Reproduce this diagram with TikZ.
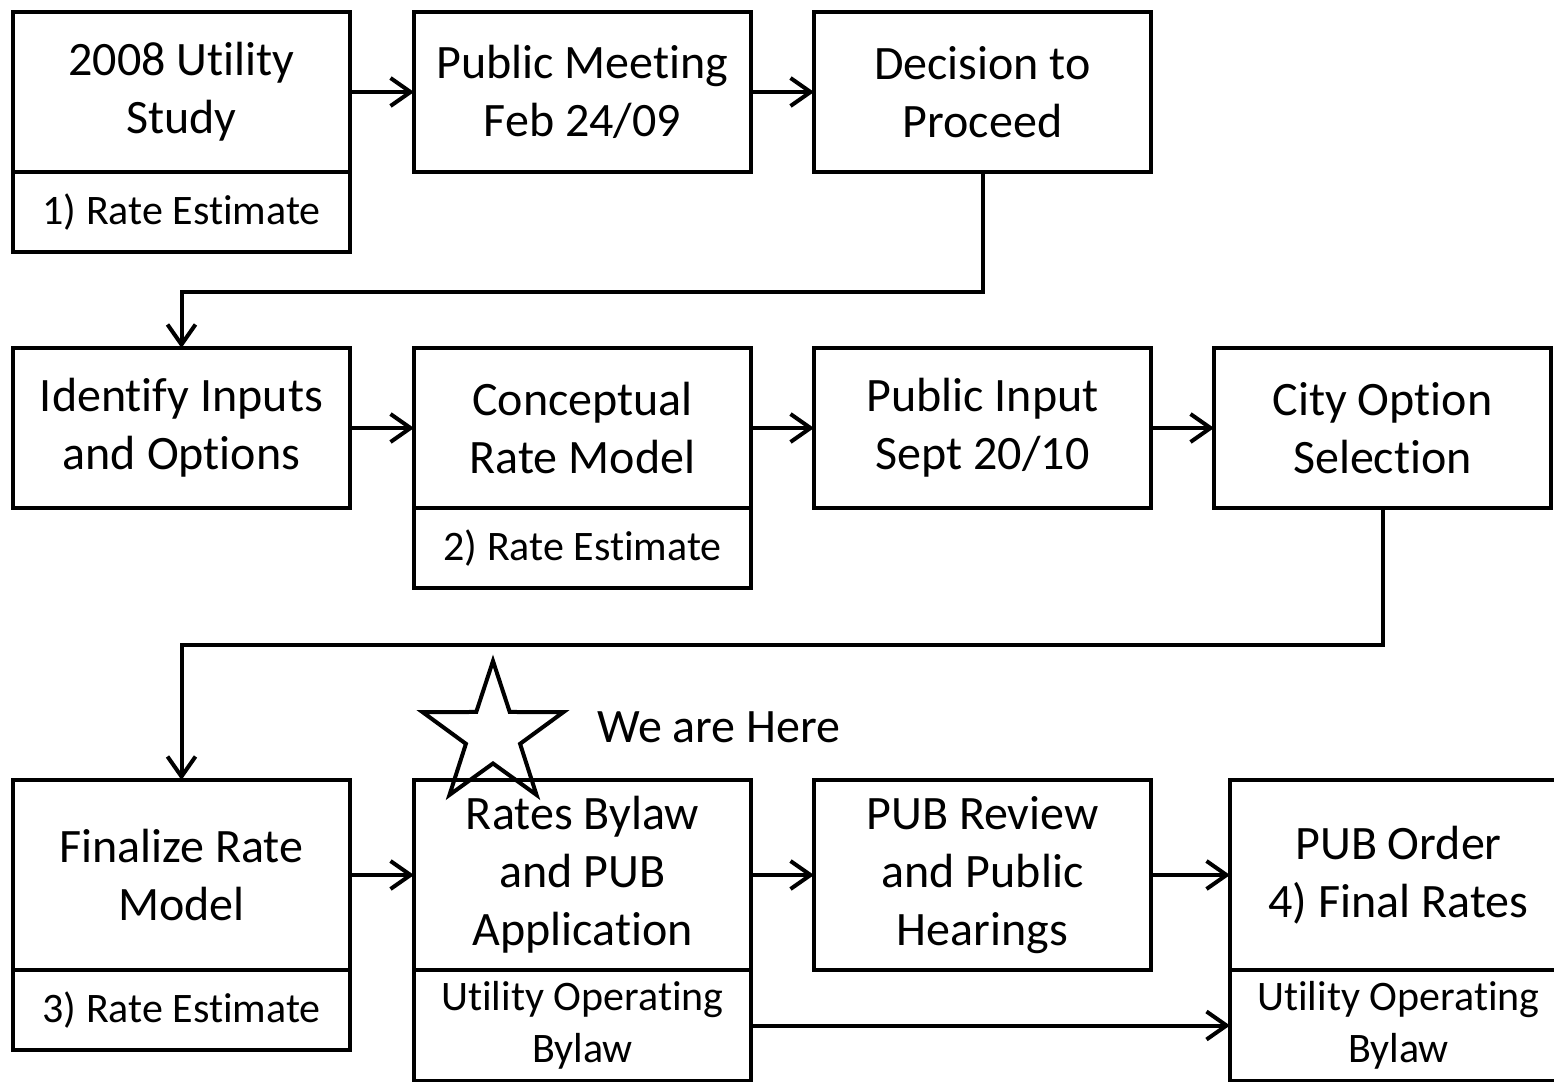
\documentclass[tikz,border=0pt]{standalone}
\usepackage{fontspec}
\setmainfont{Carlito}[Ligatures=NoCommon]
\usetikzlibrary{arrows.meta, shapes.geometric}

\tikzset{
  box/.style={draw, line width=2pt, minimum width=168.5pt, minimum height=80pt,
    inner sep=0pt, outer sep=0pt, align=center, font=\fontsize{24}{29}\selectfont},
  tallbox/.style={box, minimum height=95pt},
  subbox/.style={box, minimum height=40pt, font=\fontsize{21}{26}\selectfont},
  tallsub/.style={subbox, minimum height=55.5pt},
  flow/.style={line width=2pt, -{Straight Barb[length=10pt, width=14pt, line width=2pt]}}
}

\begin{document}
\begin{tikzpicture}[x=0.5pt, y=-0.5pt]
  \useasboundingbox (0,0) rectangle (1554,1082);
  \clip (0,0) rectangle (1554,1082);

  % first row
  \node[box, anchor=north west] (study) at (13,12) {2008 Utility\\Study};
  \node[subbox, anchor=north] (est1) at (study.south) {1) Rate Estimate};
  \node[box, anchor=north west] (meeting) at (414,12) {Public Meeting\\Feb 24/09};
  \node[box, anchor=north west] (decide) at (814,12) {Decision to\\Proceed};

  % second row
  \node[box, anchor=north west] (inputs) at (13,348) {Identify Inputs\\and Options};
  \node[box, anchor=north west] (concept) at (414,348) {Conceptual\\Rate Model};
  \node[subbox, anchor=north] (est2) at (concept.south) {2) Rate Estimate};
  \node[box, anchor=north west] (pubinput) at (814,348) {Public Input\\Sept 20/10};
  \node[box, anchor=north west] (city) at (1214,348) {City Option\\Selection};

  % third row
  \node[tallbox, anchor=north west] (final) at (13,780) {Finalize Rate\\Model};
  \node[subbox, anchor=north] (est3) at (final.south) {3) Rate Estimate};
  \node[tallbox, anchor=north west] (bylaw) at (414,780) {Rates Bylaw\\and PUB\\Application};
  \node[tallsub, anchor=north] (oper1) at (bylaw.south) {Utility Operating\\Bylaw};
  \node[tallbox, anchor=north west] (review) at (814,780) {PUB Review\\and Public\\Hearings};
  \node[tallbox, anchor=north west] (order) at (1230,780) {PUB Order\\4) Final Rates};
  \node[tallsub, anchor=north] (oper2) at (order.south) {Utility Operating\\Bylaw};

  % we are here
  \node[draw, line width=2pt, star, star points=5, star point ratio=2.6,
    minimum size=148pt*0.5, inner sep=0pt] (here) at (493,735) {};
  \node[anchor=west, font=\fontsize{24}{29}\selectfont] (heretext) at (590,727) {We are Here};

  % connectors
  \draw[flow] (study) -- (meeting);
  \draw[flow] (meeting) -- (decide);
  \draw[flow] (decide.south) -- ++(0,120) -| (inputs.north);
  \draw[flow] (inputs) -- (concept);
  \draw[flow] (concept) -- (pubinput);
  \draw[flow] (pubinput) -- (city);
  \draw[flow] (city.south) -- ++(0,137) -| (final.north);
  \draw[flow] (final) -- (bylaw);
  \draw[flow] (bylaw) -- (review);
  \draw[flow] (review) -- (order);
  \draw[flow] (oper1) -- (oper2);
\end{tikzpicture}
\end{document}
